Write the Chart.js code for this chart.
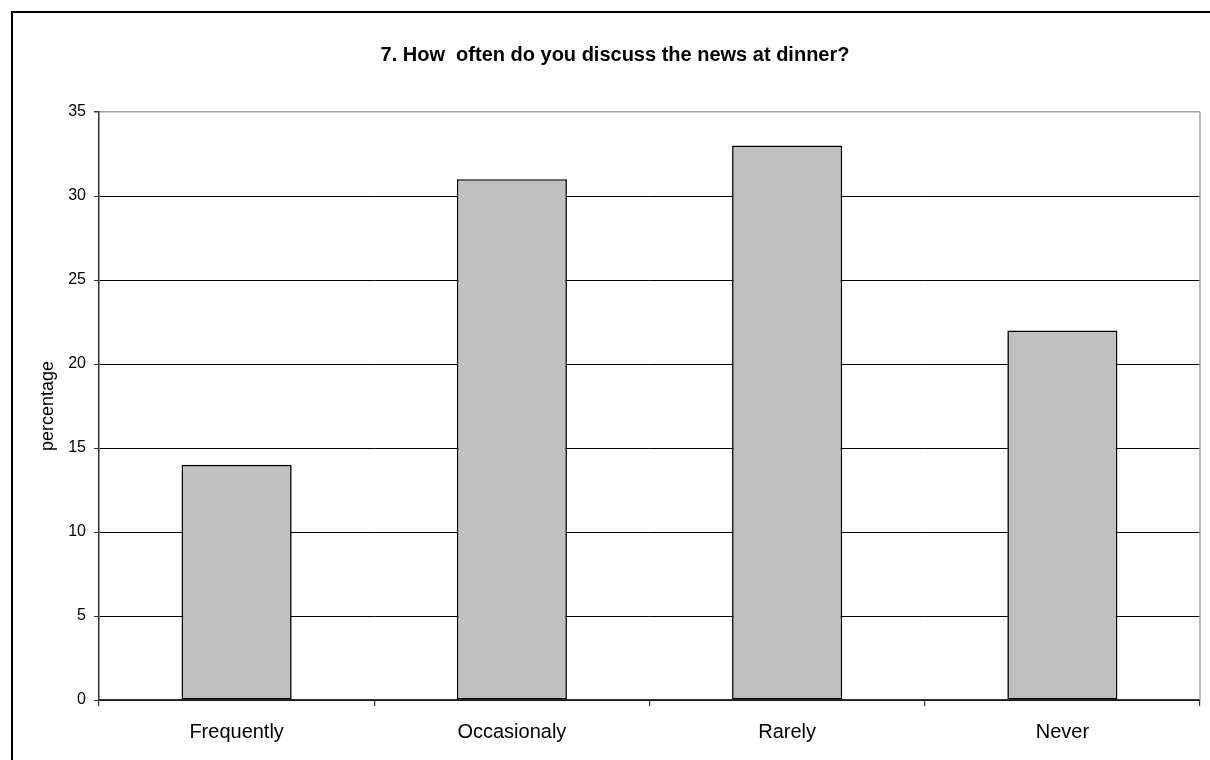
<!DOCTYPE html>
<html>
<head>
<meta charset="utf-8">
<script src="https://cdn.jsdelivr.net/npm/chart.js@4.4.1/dist/chart.umd.min.js"></script>
<style>
  html, body { margin: 0; padding: 0; background: #fff; overflow: hidden; width: 1210px; height: 760px; }
  #frame { position: absolute; left: 11px; top: 11px; width: 1400px; height: 1000px; border: 2px solid #000; box-sizing: border-box; }
  #wrap { position: absolute; left: 0; top: 0; width: 1230px; height: 780px; }
</style>
</head>
<body>
<div id="frame"></div>
<div id="wrap"><canvas id="chart" width="1230" height="780"></canvas></div>
<script>
// Survey answers and their shares
const categories = ['Frequently', 'Occasionaly', 'Rarely', 'Never'];
const percentages = [14, 31, 33, 22];
const yTicks = [0, 5, 10, 15, 20, 25, 30, 35];

const FONT = "Arial, 'Liberation Sans', sans-serif";

// Gray frame on the right side of the plot area
const plotFrame = {
  id: 'plotFrame',
  afterDraw(chart) {
    const { ctx, chartArea } = chart;
    ctx.save();
    ctx.strokeStyle = '#a0a0a0';
    ctx.lineWidth = 1.5;
    ctx.beginPath();
    ctx.moveTo(chartArea.right, chartArea.top);
    ctx.lineTo(chartArea.right, chartArea.bottom);
    ctx.stroke();
    ctx.restore();
  }
};

new Chart(document.getElementById('chart'), {
  type: 'bar',
  data: {
    labels: categories,
    datasets: [{
      data: percentages,
      backgroundColor: '#c0c0c0',
      borderColor: '#000',
      borderWidth: 1.6,
      borderSkipped: false,
      categoryPercentage: 1.0,
      barPercentage: 0.4
    }]
  },
  options: {
    responsive: false,
    animation: false,
    layout: { padding: { left: 30, right: 30, top: 0, bottom: 0 } },
    plugins: {
      legend: { display: false },
      tooltip: { enabled: false },
      title: {
        display: true,
        text: '7. How  often do you discuss the news at dinner?',
        color: '#000',
        font: { family: FONT, size: 20, weight: 'bold' },
        padding: { top: 43, bottom: 45 }
      }
    },
    scales: {
      x: {
        offset: true,
        grid: {
          offset: true,
          drawOnChartArea: false,
          tickLength: 6,
          tickColor: '#333',
          lineWidth: 1.2
        },
        border: { color: '#333', width: 1.5 },
        ticks: {
          color: '#000',
          font: { family: FONT, size: 20 },
          padding: 14,
          maxRotation: 0
        },
        afterFit(scale) { scale.height = 80; }
      },
      y: {
        min: 0,
        max: 35,
        afterBuildTicks(scale) { scale.ticks = yTicks.map(v => ({ value: v })); },
        grid: {
          color: c => c.tick && c.tick.value === 35 ? '#a0a0a0' : '#000',
          lineWidth: c => c.tick && c.tick.value === 35 ? 1.5 : 1,
          tickColor: '#333',
          tickLength: 5
        },
        border: { color: '#333', width: 1.5 },
        ticks: {
          color: '#000',
          font: { family: FONT, size: 16 },
          padding: 8
        },
        title: {
          display: true,
          text: 'percentage',
          color: '#000',
          font: { family: FONT, size: 18 },
          padding: { top: 7, bottom: 0 }
        },
        afterFit(scale) { scale.width = 69; }
      }
    }
  },
  plugins: [plotFrame]
});
</script>
</body>
</html>
